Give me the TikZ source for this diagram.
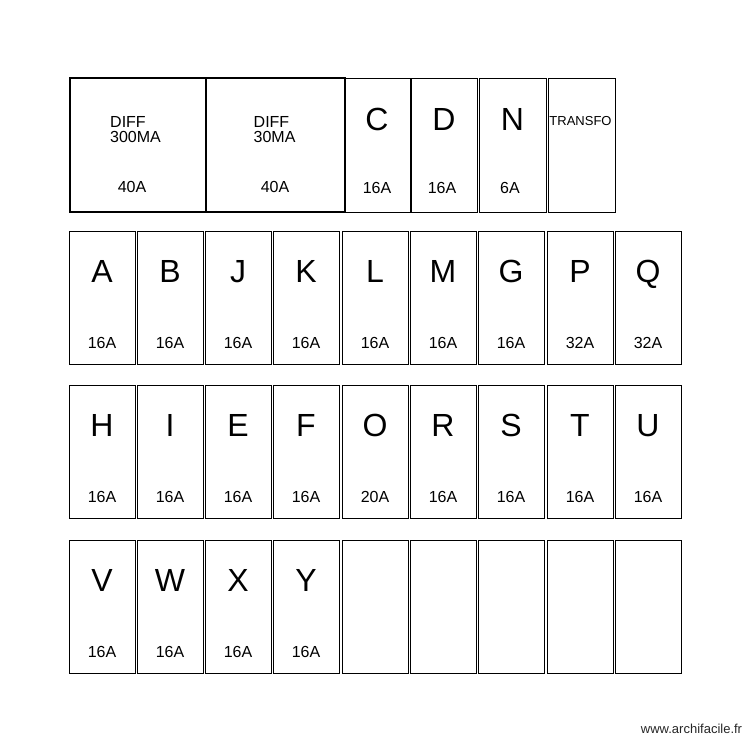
\documentclass[tikz,border=0pt]{standalone}
\usepackage{fontspec}
\setmainfont{Liberation Sans}
\begin{document}
\begin{tikzpicture}[x=1pt,y=-1pt,
  box/.style={draw=black,line width=1.15pt,inner sep=0pt,anchor=north west},
  bigbox/.style={box,line width=1.6pt},
  letter/.style={font=\fontsize{32}{32}\selectfont,inner sep=0pt,text height=23pt,text depth=0pt},
  amp/.style={font=\fontsize{16}{16}\selectfont,inner sep=0pt},
  diff/.style={font=\fontsize{16}{15}\selectfont,inner sep=0pt,align=left,anchor=base west}]
\useasboundingbox (0,0) rectangle (750,750);

\newcommand\mycell[5]{%
  \node[box,minimum width=66pt,minimum height=133pt] (#1) at (#2,#3) {};
  \node[letter] (#1-l) at (#2+33,#3+40) {#4};
  \node[amp] (#1-a) at (#2+33,#3+112) {#5};
}
\newcommand\myempty[3]{%
  \node[box,minimum width=66pt,minimum height=133pt] (#1) at (#2,#3) {};
}

% Row 1
\node[bigbox,minimum width=136pt,minimum height=134pt] (d300) at (69,77) {};
\node[diff] (d300-t) at (110,142.5) {DIFF\\300MA};
\node[amp] (d300-a) at (132,187) {40A};
\node[bigbox,minimum width=139pt,minimum height=134pt] (d30) at (205,77) {};
\node[diff] (d30-t) at (253.5,142.5) {DIFF\\30MA};
\node[amp] (d30-a) at (275,187) {40A};

\node[box,minimum width=66pt,minimum height=134pt] (C) at (344,78) {};
\node[letter] (C-l) at (377,119) {C};
\node[amp] (C-a) at (377,188) {16A};
\node[box,minimum width=66pt,minimum height=134pt] (D) at (411,78) {};
\node[letter] (D-l) at (444,119) {D};
\node[amp] (D-a) at (442,188) {16A};
\node[box,minimum width=67pt,minimum height=134pt] (N) at (479,78) {};
\node[letter] (N-l) at (512.5,119) {N};
\node[amp] (N-a) at (510,188) {6A};
\node[box,minimum width=67pt,minimum height=134pt] (TR) at (548,78) {};
\node[inner sep=0pt,font=\fontsize{13}{13}\selectfont] (TR-t) at (580.5,121.4) {TRANSFO};

% Row 2
\mycell{A}{69}{231}{A}{16A}
\mycell{B}{137}{231}{B}{16A}
\mycell{J}{205}{231}{J}{16A}
\mycell{K}{273}{231}{K}{16A}
\mycell{L}{342}{231}{L}{16A}
\mycell{M}{410}{231}{M}{16A}
\mycell{G}{478}{231}{G}{16A}
\mycell{P}{547}{231}{P}{32A}
\mycell{Q}{615}{231}{Q}{32A}

% Row 3
\mycell{H}{69}{385}{H}{16A}
\mycell{I}{137}{385}{I}{16A}
\mycell{E}{205}{385}{E}{16A}
\mycell{F}{273}{385}{F}{16A}
\mycell{O}{342}{385}{O}{20A}
\mycell{R}{410}{385}{R}{16A}
\mycell{S}{478}{385}{S}{16A}
\mycell{T}{547}{385}{T}{16A}
\mycell{U}{615}{385}{U}{16A}

% Row 4
\mycell{V}{69}{540}{V}{16A}
\mycell{W}{137}{540}{W}{16A}
\mycell{X}{205}{540}{X}{16A}
\mycell{Y}{273}{540}{Y}{16A}
\myempty{e1}{342}{540}
\myempty{e2}{410}{540}
\myempty{e3}{478}{540}
\myempty{e4}{547}{540}
\myempty{e5}{615}{540}

\node[inner sep=0pt,font=\fontsize{13}{13}\selectfont,text=black!85] (wm) at (691.5,729) {www.archifacile.fr};
\end{tikzpicture}
\end{document}
